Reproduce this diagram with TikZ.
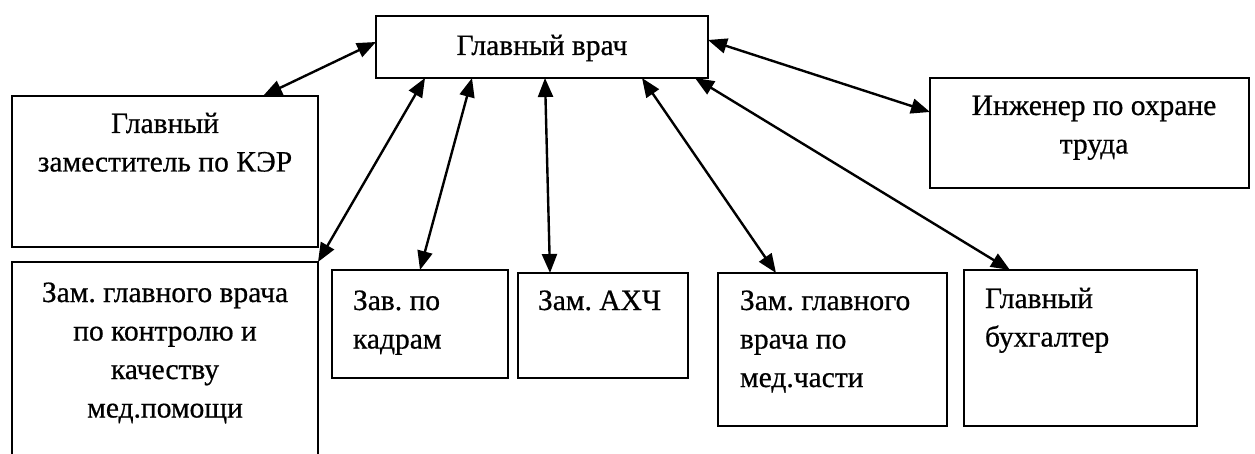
\documentclass[tikz,border=0pt]{standalone}
\usepackage{fontspec}
\setmainfont{Liberation Serif}
\newfontfamily\tnr[FakeBold=0.6]{Liberation Serif}
\usetikzlibrary{arrows.meta,calc}
\frenchspacing
\newcommand\fstrut{\rule{0pt}{26pt}}
\tikzset{
  box/.style={draw, line width=2pt, rectangle, anchor=north west, inner sep=0pt, outer sep=0pt},
  lbl/.style={inner sep=0pt, outer sep=0pt, font=\tnr\frenchspacing\fontsize{29.5}{38.5}\selectfont},
  conn/.style={line width=2.4pt, {Triangle[length=19pt,width=15pt]}-{Triangle[length=19pt,width=15pt]}}
}
\begin{document}
\begin{tikzpicture}[x=1pt,y=-1pt]
\useasboundingbox (0,0) rectangle (1255,454);
\clip (0,0) rectangle (1255,454);
% boxes
\node[box, minimum width=332pt, minimum height=62pt] (top) at (376,16) {};
\node[lbl] (toptext) at ($(top.center)+(0,1)$) {Главный врач};
\node[box, minimum width=306pt, minimum height=151pt] (ker) at (12,96) {};
\node[box, minimum width=319pt, minimum height=110pt] (ing) at (930,78) {};
\node[box, minimum width=306pt, minimum height=220pt] (kach) at (12,262) {};
\node[box, minimum width=176pt, minimum height=108pt] (kadr) at (332,270) {};
\node[box, minimum width=170pt, minimum height=105pt] (ahch) at (518,273) {};
\node[box, minimum width=229pt, minimum height=153pt] (med) at (718,273) {};
\node[box, minimum width=233pt, minimum height=156pt] (buh) at (964,270) {};
% texts
\node[lbl, anchor=north, align=center] (kertext) at (165,107) {\fstrut Главный\\заместитель по КЭР};
\node[lbl, anchor=north, align=center] (ingtext) at (1094,89) {\fstrut Инженер по охране\\труда};
\node[lbl, anchor=north, align=center] (kachtext) at (165,276) {\fstrut Зам. главного врача\\по контролю и\\качеству\\мед.помощи};
\node[lbl, anchor=north west, align=left] (kadrtext) at (353,284) {\fstrut Зав. по\\кадрам};
\node[lbl, anchor=north west, align=left] (ahchtext) at (538,284) {\fstrut Зам. АХЧ};
\node[lbl, anchor=north west, align=left] (medtext) at (740,284) {\fstrut Зам. главного\\врача по\\мед.части};
\node[lbl, anchor=north west, align=left] (buhtext) at (985,282) {\fstrut Главный\\бухгалтер};
% connectors
\draw[conn] ($(top.north west)+(0,26)$) -- ($(ker.north west)+(251,0)$);
\draw[conn] ($(top.south west)+(49,0)$) -- (kach.north east);
\draw[conn] ($(top.south west)+(96,0)$) -- ($(kadr.north west)+(88,0)$);
\draw[conn] ($(top.south west)+(169,0)$) -- ($(ahch.north west)+(32,0)$);
\draw[conn] ($(top.south west)+(266,0)$) -- ($(med.north west)+(58,0)$);
\draw[conn] ($(top.south west)+(319,0)$) -- ($(buh.north west)+(46,0)$);
\draw[conn] ($(top.north east)+(0,24)$) -- ($(ing.north west)+(0,34)$);
\end{tikzpicture}
\end{document}
